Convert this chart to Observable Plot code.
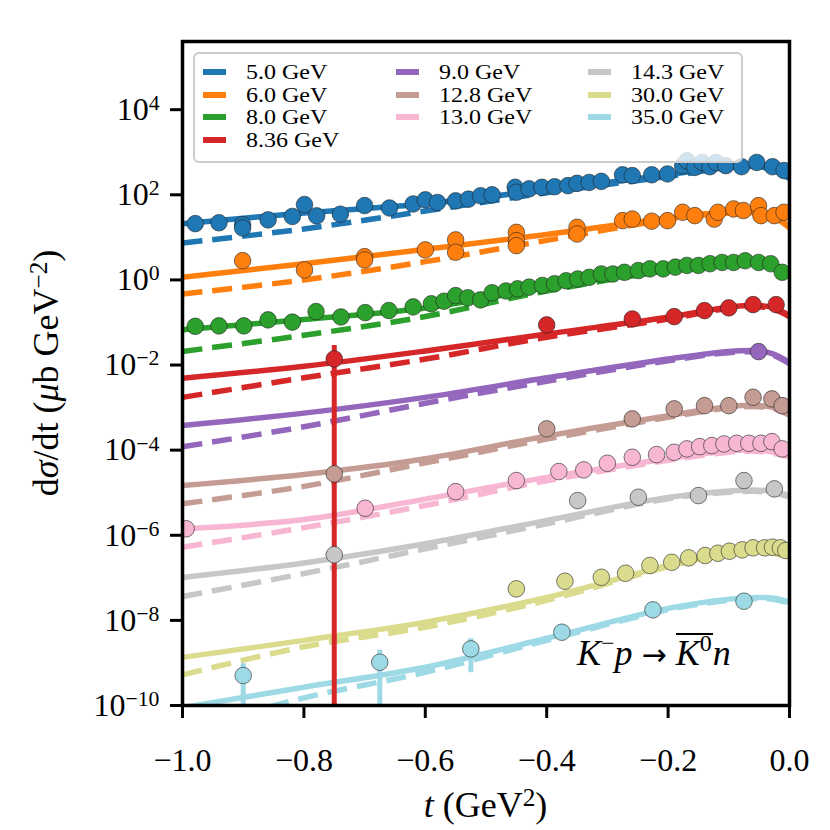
<!DOCTYPE html>
<html><head><meta charset="utf-8">
<script src="https://cdn.jsdelivr.net/npm/d3@7"></script>
<script src="https://cdn.jsdelivr.net/npm/@observablehq/plot@0.6"></script>
<style>
html,body{margin:0;padding:0;background:#fff;}
#wrap{position:relative;width:830px;height:830px;font-family:"Liberation Serif",serif;color:#000;}
#wrap svg{position:absolute;left:0;top:0;}
#legend{position:absolute;left:193px;top:52px;width:546px;height:107px;background:rgba(255,255,255,0.8);border:2px solid #cccccc;border-radius:6px;}
.entry{position:absolute;height:22px;display:flex;align-items:center;white-space:nowrap;}
.entry span{font-size:20px;line-height:20px;display:inline-block;transform:scaleX(1.2);transform-origin:0 50%;}
.sw{width:23px;height:6px;margin-right:20px;flex:none;}
#note{position:absolute;left:577px;top:633px;font-size:36px;line-height:36px;white-space:nowrap;}
#note .sup{font-size:24px;position:relative;top:-14px;}
#note .ov{display:inline-block;border-top:2px solid #000;line-height:36px;padding-right:1px;}
#note .arr{font-family:"DejaVu Sans",sans-serif;font-size:30px;}
</style></head>
<body><div id="wrap"></div>
<script>
// ---------- data ----------
const energies = ["5.0 GeV","6.0 GeV","8.0 GeV","8.36 GeV","9.0 GeV","12.8 GeV","13.0 GeV","14.3 GeV","30.0 GeV","35.0 GeV"];
const colors = ["#1f77b4","#ff7f0e","#2ca02c","#d62728","#9467bd","#c49c94","#f7b6d2","#c7c7c7","#dbdb8d","#9edae5"];

const xTicks = [-1.0,-0.8,-0.6,-0.4,-0.2,0.0];
const yTickExps = [-10,-8,-6,-4,-2,0,2,4];

// measured points [t, dsigma/dt]
const pts5_0 = [[-0.979,21],[-0.940,22],[-0.901,20],[-0.901,16.6],[-0.859,25.7],[-0.819,31],[-0.799,59],[-0.779,32],[-0.740,35],[-0.700,56],[-0.659,49],[-0.620,61],[-0.600,76],[-0.580,66],[-0.550,72],[-0.529,79],[-0.509,95],[-0.490,100],[-0.452,150],[-0.450,115],[-0.429,138],[-0.408,150],[-0.387,155],[-0.365,164],[-0.350,186],[-0.330,195],[-0.310,207],[-0.275,295],[-0.259,282],[-0.227,295],[-0.201,309],[-0.176,484],[-0.169,631],[-0.156,442],[-0.144,575],[-0.131,457],[-0.121,575],[-0.105,484],[-0.079,457],[-0.054,575],[-0.028,457],[-0.009,372]];
const pts6_0 = [[-0.901,2.84],[-0.799,1.72],[-0.700,3.52],[-0.700,2.95],[-0.600,5.07],[-0.550,8.71],[-0.550,4.47],[-0.450,13.1],[-0.450,8.37],[-0.450,6.4],[-0.350,17.2],[-0.350,12.0],[-0.275,24.7],[-0.259,26.9],[-0.227,24.0],[-0.201,24.7],[-0.176,38.9],[-0.156,32.4],[-0.124,26.9],[-0.118,38.9],[-0.092,46.5],[-0.076,42.7],[-0.051,55.6],[-0.047,32.4],[-0.025,32.4],[-0.009,38.9]];
const pts8_0 = [[-0.979,0.0813],[-0.940,0.0832],[-0.899,0.0832],[-0.859,0.115],[-0.819,0.102],[-0.780,0.180],[-0.739,0.135],[-0.699,0.170],[-0.660,0.191],[-0.620,0.232],[-0.590,0.275],[-0.569,0.316],[-0.550,0.427],[-0.530,0.380],[-0.509,0.339],[-0.490,0.50],[-0.467,0.55],[-0.448,0.617],[-0.429,0.676],[-0.407,0.741],[-0.387,0.813],[-0.368,0.955],[-0.349,1.05],[-0.330,1.15],[-0.310,1.38],[-0.291,1.38],[-0.272,1.51],[-0.249,1.66],[-0.230,1.82],[-0.208,1.82],[-0.188,2.0],[-0.169,2.19],[-0.150,2.19],[-0.131,2.40],[-0.111,2.57],[-0.092,2.57],[-0.073,2.82],[-0.051,2.57],[-0.031,2.40],[-0.012,1.51]];
const pts8_36 = [[-0.750,1.39e-2],[-0.400,8.77e-2],[-0.259,0.121],[-0.190,0.137],[-0.140,0.190],[-0.100,0.220],[-0.060,0.263],[-0.022,0.263]];
const pts9_0 = [[-0.051,2.07e-2]];
const pts12_8 = [[-0.750,2.77e-5],[-0.400,3.16e-4],[-0.259,5.43e-4],[-0.190,9.33e-4],[-0.140,1.11e-3],[-0.100,1.11e-3],[-0.060,1.75e-3],[-0.029,1.60e-3],[-0.012,1.11e-3]];
const pts13_0 = [[-0.994,1.42e-6],[-0.699,4.32e-6],[-0.550,1.06e-5],[-0.450,1.93e-5],[-0.380,3.14e-5],[-0.339,3.44e-5],[-0.300,4.92e-5],[-0.259,6.81e-5],[-0.219,7.87e-5],[-0.190,8.91e-5],[-0.169,1.07e-4],[-0.148,1.21e-4],[-0.128,1.28e-4],[-0.108,1.40e-4],[-0.087,1.45e-4],[-0.067,1.45e-4],[-0.047,1.45e-4],[-0.029,1.59e-4],[-0.012,1.07e-4]];
const pts14_3 = [[-0.750,3.47e-7],[-0.349,6.55e-6],[-0.249,7.82e-6],[-0.150,8.57e-6],[-0.075,1.93e-5],[-0.025,1.23e-5]];
const pts30_0 = [[-0.450,5.51e-8],[-0.370,8.32e-8],[-0.310,1.03e-7],[-0.270,1.28e-7],[-0.230,1.95e-7],[-0.194,2.32e-7],[-0.166,2.95e-7],[-0.139,3.34e-7],[-0.118,3.78e-7],[-0.099,4.22e-7],[-0.078,4.54e-7],[-0.060,5.07e-7],[-0.041,5.07e-7],[-0.028,5.25e-7],[-0.015,5.07e-7],[-0.006,4.38e-7]];
const pts35_0 = [[-0.900,5.07e-10],[-0.675,1.04e-9],[-0.525,2.14e-9],[-0.375,5.27e-9],[-0.225,1.77e-8],[-0.075,2.82e-8]];

// error bars [t, value, error]
const err8_36 = [[-0.750,1.39e-2,1.49e-2]];
const err35_0 = [[-0.900,5.07e-10,4.5e-10],[-0.675,1.04e-9,0.96e-9],[-0.525,2.14e-9,1.55e-9]];

// model curves sampled at curveT
const curveT = [-1,-0.8,-0.6,-0.4,-0.2,-0.1,-0.05,-0.025,0];
const solid5_0 = [20.9,37.2,61.7,132,295,479,490,398,257];
const dashed5_0 = [7.41,15.8,41.7,112,269,437,457,372,240];
const solid6_0 = [1.15,2.40,5.25,11.7,28.2,39.8,39.8,31.6,17.4];
const dashed6_0 = [0.468,1.0,2.69,8.51,26.3,37.2,37.2,29.5,16.6];
const solid8_0 = [0.0676,0.117,0.219,0.661,1.82,2.63,2.69,2.29,1.48];
const dashed8_0 = [0.0209,0.0501,0.138,0.550,1.66,2.45,2.51,2.14,1.38];
const solid8_36 = [4.90e-3,9.33e-3,0.0214,0.0537,0.132,0.229,0.251,0.219,0.145];
const dashed8_36 = [1.74e-3,5.01e-3,0.0138,0.0447,0.120,0.214,0.234,0.204,0.135];
const solid9_0 = [3.80e-4,7.41e-4,1.74e-3,5.01e-3,0.0138,0.0209,0.0214,0.0178,0.0115];
const dashed9_0 = [1.20e-4,3.55e-4,1.26e-3,4.17e-3,0.0126,0.0195,0.0200,0.0166,0.0107];
const solid12_8 = [1.48e-5,2.69e-5,6.31e-5,2.14e-4,6.46e-4,1.05e-3,1.12e-3,1.0e-3,7.08e-4];
const dashed12_8 = [5.50e-6,1.41e-5,5.01e-5,1.82e-4,5.89e-4,9.77e-4,1.05e-3,9.33e-4,6.61e-4];
const solid13_0 = [1.41e-6,2.34e-6,7.08e-6,2.29e-5,6.31e-5,9.55e-5,1.0e-4,8.91e-5,7.41e-5];
const dashed13_0 = [5.25e-7,1.51e-6,5.01e-6,1.91e-5,5.75e-5,8.91e-5,9.33e-5,8.32e-5,6.92e-5];
const solid14_3 = [1.02e-7,2.24e-7,6.31e-7,2.24e-6,7.76e-6,1.10e-5,1.15e-5,1.05e-5,8.51e-6];
const dashed14_3 = [3.63e-8,1.26e-7,4.79e-7,1.86e-6,7.24e-6,1.02e-5,1.07e-5,9.77e-6,7.94e-6];
const solid30_0 = [1.35e-9,3.39e-9,9.12e-9,3.47e-8,1.95e-7,3.98e-7,4.37e-7,3.98e-7,3.31e-7];
const dashed30_0 = [5.25e-10,2.40e-9,6.92e-9,2.95e-8,1.82e-7,3.72e-7,4.07e-7,3.72e-7,3.09e-7];
const solid35_0 = [8.91e-11,2.69e-10,7.94e-10,3.80e-9,1.91e-8,3.16e-8,3.47e-8,3.31e-8,2.69e-8];
const dashed35_0 = [2.51e-11,1.51e-10,6.03e-10,3.39e-9,1.78e-8,2.95e-8,3.24e-8,3.09e-8,2.51e-8];

// ---------- tables ----------
const allPts = [pts5_0,pts6_0,pts8_0,pts8_36,pts9_0,pts12_8,pts13_0,pts14_3,pts30_0,pts35_0];
const allSolid = [solid5_0,solid6_0,solid8_0,solid8_36,solid9_0,solid12_8,solid13_0,solid14_3,solid30_0,solid35_0];
const allDashed = [dashed5_0,dashed6_0,dashed8_0,dashed8_36,dashed9_0,dashed12_8,dashed13_0,dashed14_3,dashed30_0,dashed35_0];
const yMin = 1e-10, yMax = 4e5;

const pointRows = [], solidRows = [], dashedRows = [], errRows = [];
energies.forEach((e, i) => {
  allPts[i].forEach(([t, v]) => pointRows.push({energy: e, t, v}));
  curveT.forEach((t, j) => {
    solidRows.push({energy: e, t, v: allSolid[i][j]});
    dashedRows.push({energy: e, t, v: allDashed[i][j]});
  });
});
err8_36.forEach(([t, v, er]) => errRows.push({energy: energies[3], t, v, er}));
err35_0.forEach(([t, v, er]) => errRows.push({energy: energies[9], t, v, er}));

const minus = s => String(s).replace("-", "\u2212");

const chart = Plot.plot({
  width: 830, height: 830,
  marginLeft: 182, marginRight: 41, marginTop: 41, marginBottom: 125,
  style: {fontFamily: "'Liberation Serif', serif", fontSize: "32px", color: "#000", background: "transparent"},
  x: {domain: [-1, 0], label: null},
  y: {type: "log", domain: [yMin, yMax], label: null},
  color: {type: "ordinal", domain: energies, range: colors},
  marks: [
    Plot.line(dashedRows, {x: "t", y: "v", z: "energy", stroke: "energy", strokeWidth: 5.5, strokeDasharray: "20,10", strokeLinecap: "butt", curve: "catmull-rom", clip: true}),
    Plot.line(solidRows, {x: "t", y: "v", z: "energy", stroke: "energy", strokeWidth: 5.5, strokeLinecap: "butt", curve: "catmull-rom", clip: true}),
    Plot.ruleX(errRows, {x: "t", y1: d => Math.max(d.v - d.er, yMin), y2: d => d.v + d.er, stroke: "energy", strokeWidth: 5, clip: true}),
    Plot.dot(pointRows, {x: "t", y: "v", fill: "energy", r: 8.3, stroke: "#222", strokeWidth: 0.7, strokeOpacity: 0.85, clip: true}),
    Plot.frame({stroke: "#000", strokeWidth: 3.5}),
    Plot.axisX({ticks: xTicks, tickFormat: d3.format(".1f"), tickSize: 13, tickPadding: 30, strokeWidth: 3, fontSize: 32, label: null}),
    Plot.axisY({ticks: yTickExps.map(e => Math.pow(10, e)), tickFormat: d => "10^" + minus(Math.round(Math.log10(d))), tickSize: 12, tickPadding: 11, strokeWidth: 3, fontSize: 32, label: null})
  ]
});

const wrap = document.getElementById("wrap");
wrap.appendChild(chart);
const svg = d3.select(chart);

// superscript exponents on y tick labels
svg.selectAll('g[aria-label="y-axis tick label"] text').each(function() {
  const txt = this.textContent;
  const k = txt.indexOf("^");
  if (k < 0) return;
  const base = txt.slice(0, k), exp = txt.slice(k + 1);
  this.textContent = base;
  d3.select(this).append("tspan").attr("dy", "-0.45em").attr("font-size", "0.68em").text(exp);
});

// axis labels
const yl = svg.append("text").attr("transform", "translate(58,373) rotate(-90)")
  .attr("text-anchor", "middle").attr("font-size", 36).attr("fill", "#000");
yl.append("tspan").text("d");
yl.append("tspan").attr("font-style", "italic").text("σ");
yl.append("tspan").text("/dt (");
yl.append("tspan").attr("font-style", "italic").text("μ");
yl.append("tspan").text("b GeV");
yl.append("tspan").attr("dy", "-0.45em").attr("font-size", "0.7em").text("\u22122");
yl.append("tspan").attr("dy", "0.315em").text(")");

const xl = svg.append("text").attr("x", 485.5).attr("y", 817)
  .attr("text-anchor", "middle").attr("font-size", 36).attr("fill", "#000");
xl.append("tspan").attr("font-style", "italic").text("t");
xl.append("tspan").text(" (GeV");
xl.append("tspan").attr("dy", "-0.45em").attr("font-size", "0.7em").text("2");
xl.append("tspan").attr("dy", "0.315em").text(")");

// legend (column-major, 4/3/3 rows)
const legend = document.createElement("div");
legend.id = "legend";
const colLeft = [8, 201, 393], rowTop = [7, 29.5, 52, 74.5], colSizes = [4, 3, 3];
let idx = 0;
colSizes.forEach((n, c) => {
  for (let r = 0; r < n; r++, idx++) {
    const en = document.createElement("div");
    en.className = "entry";
    en.style.left = colLeft[c] + "px";
    en.style.top = rowTop[r] + "px";
    const sw = document.createElement("div");
    sw.className = "sw";
    sw.style.background = colors[idx];
    const lab = document.createElement("span");
    lab.textContent = energies[idx];
    en.appendChild(sw); en.appendChild(lab);
    legend.appendChild(en);
  }
});
wrap.appendChild(legend);

// reaction annotation
const note = document.createElement("div");
note.id = "note";
note.innerHTML = '<i>K</i><span class="sup">\u2212</span><i>p</i> <span class="arr">\u2192</span> <span class="ov"><i>K</i><span class="sup">0</span></span><i>n</i>';
wrap.appendChild(note);
</script></body></html>
